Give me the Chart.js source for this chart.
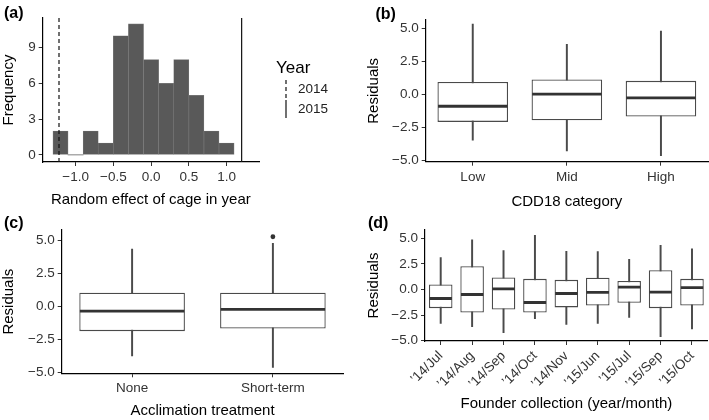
<!DOCTYPE html>
<html lang="en">
<head>
<meta charset="UTF-8">
<title>Random effects and residuals</title>
<script src="https://cdn.jsdelivr.net/npm/chart.js"></script>
<style>
    body { margin: 0; background: #fff; }
    #wrap { position: relative; width: 709px; height: 420px; overflow: hidden; }
    canvas { position: absolute; }
</style>
</head>
<body>
<div id="wrap">
    <canvas id="chartA" width="355" height="210" style="left:0;top:0"></canvas>
    <canvas id="chartB" width="354" height="212" style="left:355px;top:0"></canvas>
    <canvas id="chartC" width="355" height="215" style="left:0;top:205px"></canvas>
    <canvas id="chartD" width="354" height="215" style="left:355px;top:205px"></canvas>
</div>
<script>
// (a) histogram of cage random effects
var binCenters = [-1.2, -1.0, -0.8, -0.6, -0.4, -0.2, 0.0, 0.2, 0.4, 0.6, 0.8, 1.0];
var binCounts = [2, 0, 2, 1, 10, 11, 8, 6, 8, 5, 2, 1];
var yearLabels = ['2014', '2015'];
var yearLineX = [-1.22, 1.2];
var histXTicks = [-1.0, -0.5, 0.0, 0.5, 1.0];
var histYTicks = [0, 3, 6, 9];

// (b) residuals by CDD18 category
var cddLabels = ['Low', 'Mid', 'High'];
var cddLo = [-3.46, -4.27, -4.62];
var cddQ1 = [-2.07, -1.95, -1.67];
var cddMed = [-0.89, 0.02, -0.26];
var cddQ3 = [0.95, 1.14, 1.03];
var cddHi = [5.33, 3.79, 4.80];

// (c) residuals by acclimation treatment
var accLabels = ['None', 'Short-term'];
var accLo = [-3.76, -4.64];
var accQ1 = [-1.89, -1.69];
var accMed = [-0.38, -0.25];
var accQ3 = [1.01, 1.01];
var accHi = [4.32, 4.75];
var accOutliers = [null, 5.25];

// (d) residuals by founder collection
var founderLabels = ['\u201914/Jul', '\u201914/Aug', '\u201914/Sep', '\u201914/Oct', '\u201914/Nov',
                     '\u201915/Jun', '\u201915/Jul', '\u201915/Sep', '\u201915/Oct'];
var fLo = [-3.31, -3.64, -4.22, -2.86, -3.41, -3.31, -2.73, -4.61, -3.86];
var fQ1 = [-1.82, -2.24, -1.95, -2.24, -1.75, -1.56, -1.30, -1.82, -1.56];
var fMed = [-0.88, -0.49, 0.06, -1.27, -0.39, -0.29, 0.23, -0.26, 0.19];
var fQ3 = [0.49, 2.27, 1.17, 1.04, 0.94, 1.14, 0.84, 1.88, 1.04];
var fHi = [3.12, 4.84, 3.80, 5.29, 3.73, 3.70, 2.95, 4.32, 3.96];

var residTicks = [-5.0, -2.5, 0.0, 2.5, 5.0];

var FONT = "'Liberation Sans', Arial, Helvetica, sans-serif";
Chart.defaults.font.family = FONT;
Chart.defaults.color = '#333';
Chart.defaults.animation = false;
Chart.defaults.plugins.legend.display = false;
Chart.defaults.plugins.tooltip.enabled = false;

function fmt(v) {
    return (v < 0 ? '\u2212' : '') + Math.abs(v).toFixed(1);
}

// panel letters
var panelTag = {
    id: 'panelTag',
    afterDraw: function(chart, args, opts) {
        var c = chart.ctx;
        c.save();
        c.font = 'bold 16px ' + FONT;
        c.fillStyle = '#000';
        c.textBaseline = 'middle';
        c.fillText(opts.text, opts.x, opts.y);
        c.restore();
    }
};

// ggplot style legend for the year lines
var yearLegend = {
    id: 'yearLegend',
    afterDraw: function(chart, args, opts) {
        if (!opts.show) return;
        var c = chart.ctx;
        c.save();
        c.fillStyle = '#000';
        c.textBaseline = 'middle';
        c.font = '17px ' + FONT;
        c.fillText('Year', 276, 68);
        c.font = '13.5px ' + FONT;
        for (var i = 0; i < yearLabels.length; i++) {
            var ds = chart.data.datasets[i];
            var cy = 89 + i * 20;
            c.strokeStyle = ds.borderColor;
            c.lineWidth = ds.borderWidth;
            c.setLineDash(ds.borderDash || []);
            c.beginPath();
            c.moveTo(286, cy - 9);
            c.lineTo(286, cy + 9);
            c.stroke();
            c.setLineDash([]);
            c.fillStyle = '#222';
            c.fillText(yearLabels[i], 298, cy);
        }
        c.restore();
    }
};

function axisBase() {
    return {
        border: { display: true, color: '#000', width: 1.2 },
        grid: { drawOnChartArea: false, tickLength: 4, color: '#333', offset: false },
        ticks: { font: { size: 13.5 }, color: '#333', padding: 3 }
    };
}

function yAxis(min, max, ticks, width, titleText, titlePad, cb) {
    var s = axisBase();
    s.min = min;
    s.max = max;
    s.afterBuildTicks = function(scale) {
        scale.ticks = ticks.map(function(v) { return { value: v }; });
    };
    s.afterFit = function(scale) { scale.width = width; };
    s.ticks.callback = cb;
    s.title = { display: true, text: titleText, font: { size: 15 }, color: '#000', padding: { top: titlePad, bottom: 0 } };
    return s;
}

function xAxis(height, titleText, titlePad) {
    var s = axisBase();
    s.afterFit = function(scale) { scale.height = height; };
    s.title = { display: true, text: titleText, font: { size: 15 }, color: '#000', padding: { top: 0, bottom: titlePad } };
    return s;
}

function medianRadius(ctx) {
    var ca = ctx.chart.chartArea;
    var n = ctx.chart.data.labels.length;
    if (!ca) return 0;
    return 0.75 * (ca.right - ca.left) / n / 2 - 0.6;
}

function boxDatasets(lo, q1, med, q3, hi) {
    return [
        {
            type: 'line', data: med, showLine: false, order: 0,
            pointStyle: 'line', pointRadius: medianRadius, pointHoverRadius: medianRadius,
            pointBorderWidth: 2.8, pointBorderColor: '#333', pointBackgroundColor: '#333'
        },
        {
            type: 'bar', order: 1, grouped: false,
            data: q1.map(function(v, i) { return [v, q3[i]]; }),
            backgroundColor: '#fff', borderColor: '#4a4a4a', borderWidth: 1.3, borderSkipped: false,
            barPercentage: 0.75, categoryPercentage: 1
        },
        {
            type: 'bar', order: 2, grouped: false,
            data: lo.map(function(v, i) { return [v, hi[i]]; }),
            backgroundColor: '#4a4a4a', borderWidth: 0, barThickness: 1.3
        }
    ];
}

function boxChart(id, labels, sets, yRange, yWidth, yPad, xHeight, xTitle, xPad, pad, tag, rotate) {
    var x = xAxis(xHeight, xTitle, xPad);
    if (rotate) {
        x.ticks.maxRotation = 45;
        x.ticks.minRotation = 45;
        x.ticks.autoSkip = false;
    }
    return new Chart(document.getElementById(id), {
        type: 'bar',
        data: { labels: labels, datasets: sets },
        options: {
            responsive: false,
            maintainAspectRatio: false,
            layout: { padding: pad },
            scales: {
                x: x,
                y: yAxis(yRange[0], yRange[1], residTicks, yWidth, 'Residuals', yPad, fmt)
            },
            plugins: { panelTag: tag, yearLegend: { show: false } }
        },
        plugins: [panelTag, yearLegend]
    });
}

// (a)
var histX = xAxis(48, 'Random effect of cage in year', 1);
histX.type = 'linear';
histX.min = -1.436;
histX.max = 1.43;
histX.offset = false;
histX.afterBuildTicks = function(scale) {
    scale.ticks = histXTicks.map(function(v) { return { value: v }; });
};
histX.ticks.callback = fmt;

new Chart(document.getElementById('chartA'), {
    type: 'bar',
    data: {
        datasets: [
            {
                type: 'line', label: yearLabels[0], order: 0,
                data: [{ x: yearLineX[0], y: -0.6 }, { x: yearLineX[0], y: 11.5 }],
                borderColor: '#111', borderWidth: 1.2, borderDash: [4, 3], pointRadius: 0
            },
            {
                type: 'line', label: yearLabels[1], order: 0,
                data: [{ x: yearLineX[1], y: -0.6 }, { x: yearLineX[1], y: 11.5 }],
                borderColor: '#111', borderWidth: 1.2, pointRadius: 0
            },
            {
                type: 'bar', label: 'count', order: 1,
                data: binCenters.map(function(v, i) { return { x: v, y: binCounts[i] }; }),
                backgroundColor: '#595959',
                borderColor: '#7a7a7a',
                borderWidth: function(ctx) { return binCounts[ctx.dataIndex] ? 0.6 : 0; },
                borderSkipped: false,
                barPercentage: 1, categoryPercentage: 1
            }
        ]
    },
    options: {
        responsive: false,
        maintainAspectRatio: false,
        layout: { padding: { left: 0, top: 18, right: 96, bottom: 0 } },
        scales: {
            x: histX,
            y: yAxis(-0.6, 11.5, histYTicks, 42.7, 'Frequency', 0, function(v) { return v; })
        },
        plugins: {
            panelTag: { text: '(a)', x: 4, y: 14 },
            yearLegend: { show: true }
        }
    },
    plugins: [panelTag, yearLegend]
});

// (b)
boxChart('chartB', cddLabels, boxDatasets(cddLo, cddQ1, cddMed, cddQ3, cddHi),
    [-5.08, 5.63], 70.7, 9.5, 50.3, 'CDD18 category', 1.3,
    { left: 0, top: 20, right: 1, bottom: 0 }, { text: '(b)', x: 20.5, y: 15 }, false);

// (c)
var cSets = boxDatasets(accLo, accQ1, accMed, accQ3, accHi);
cSets.unshift({
    type: 'line', data: accOutliers, showLine: false, order: 0,
    pointRadius: 2.4, pointBackgroundColor: '#333', pointBorderWidth: 0
});
boxChart('chartC', accLabels, cSets,
    [-5.08, 5.76], 61.7, 0, 46.7, 'Acclimation treatment', 0,
    { left: 0, top: 25, right: 11.7, bottom: 0 }, { text: '(c)', x: 4, y: 18.3 }, false);

// (d)
boxChart('chartD', founderLabels, boxDatasets(fLo, fQ1, fMed, fQ3, fHi),
    [-5.03, 5.81], 70, 9.5, 79, 'Founder collection (year/month)', 6.7,
    { left: 0, top: 25, right: 1.3, bottom: 0 }, { text: '(d)', x: 13, y: 18.3 }, true);
</script>
</body>
</html>
